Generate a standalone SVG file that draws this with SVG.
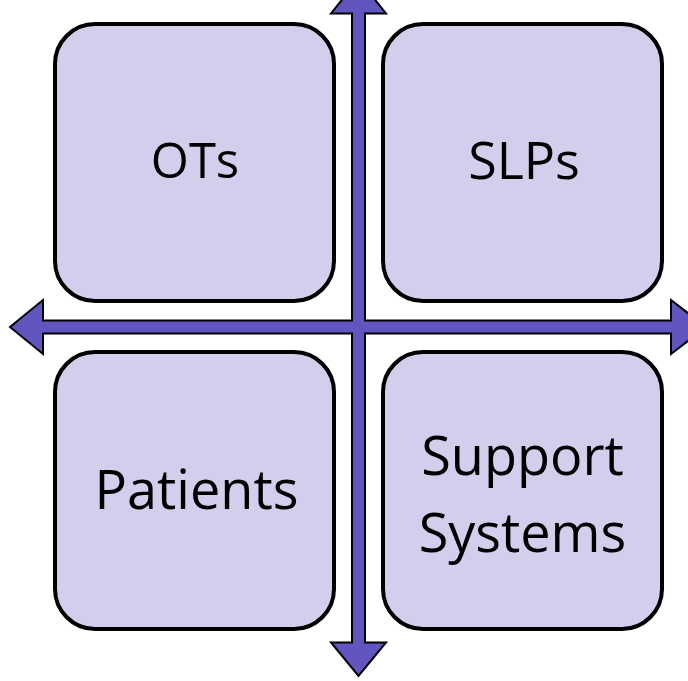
<svg xmlns="http://www.w3.org/2000/svg" width="688" height="681" viewBox="0 0 688 681">
  <style>
    .box { fill: #d1cfec; stroke: #000; stroke-width: 4; }
    .label { font-family: "Open Sans", "Liberation Sans", sans-serif; fill: #000; text-anchor: middle; }
    .axes { fill: #6155c0; stroke: #000; stroke-width: 2; stroke-linejoin: miter; }
  </style>
  <rect width="688" height="681" fill="#fff"/>

  <!-- four-way arrow dividing the quadrants -->
  <g id="connectors">
    <polygon class="axes" points="358.5,-21 386,13.5 365,13.5 365,320.5 671,320.5 671,300 706,327 671,354 671,333.5 365,333.5 365,642.5 386,642.5 358.5,676 331,642.5 352,642.5 352,333.5 43,333.5 43,354 10,327 43,300 43,320.5 352,320.5 352,13.5 331,13.5"/>
  </g>

  <g id="ots">
    <rect class="box" x="55" y="24" width="279" height="277" rx="40" ry="40"/>
    <text class="label" x="195" y="178" font-size="49">OTs</text>
  </g>

  <g id="slps">
    <rect class="box" x="383" y="24" width="279" height="277" rx="40" ry="40"/>
    <text class="label" x="524" y="179" font-size="52">SLPs</text>
  </g>

  <g id="patients">
    <rect class="box" x="55" y="352" width="279" height="277" rx="40" ry="40"/>
    <text class="label" x="196.5" y="509" font-size="54">Patients</text>
  </g>

  <g id="support-systems">
    <rect class="box" x="383" y="352" width="279" height="277" rx="40" ry="40"/>
    <text class="label" x="522.5" y="475" font-size="54">Support</text>
    <text class="label" x="522.5" y="552" font-size="54">Systems</text>
  </g>
</svg>
